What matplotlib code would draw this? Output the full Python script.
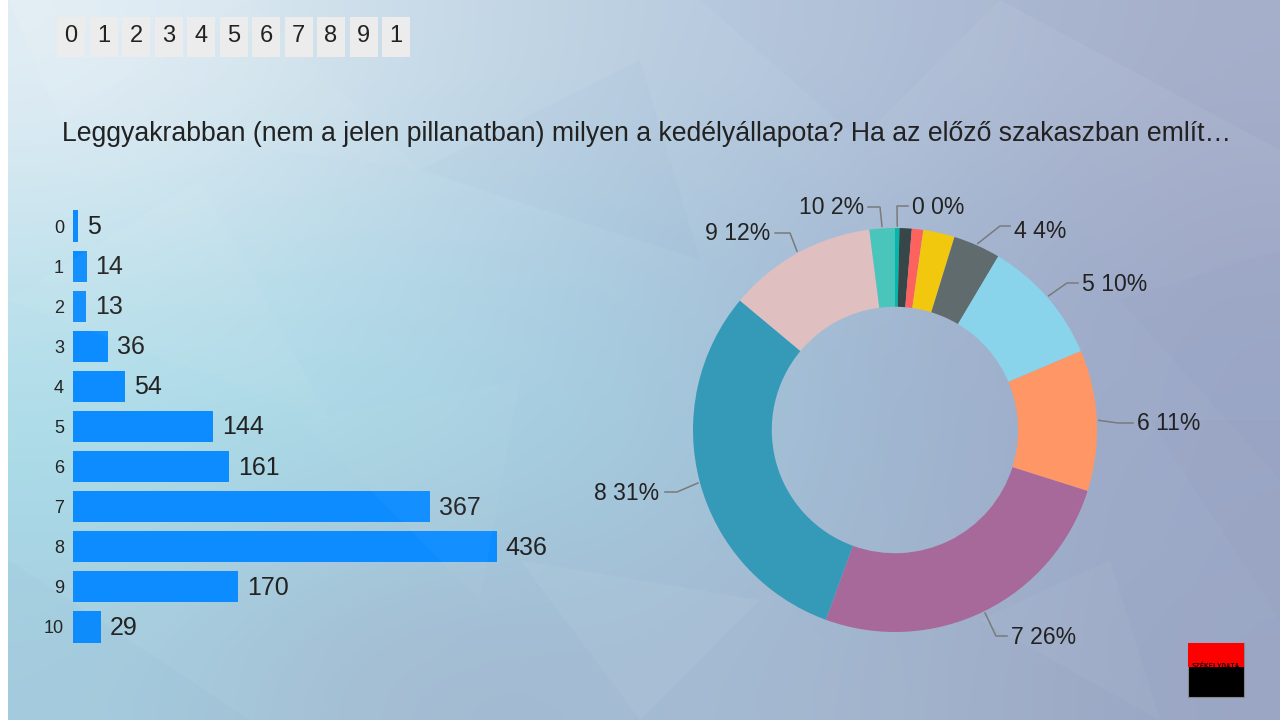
import matplotlib
matplotlib.use('Agg')
import matplotlib.pyplot as plt
import numpy as np
from matplotlib.patches import Rectangle, Polygon
from matplotlib.lines import Line2D
from matplotlib.colors import to_rgb

# ---------------- data ----------------
categories = ['0', '1', '2', '3', '4', '5', '6', '7', '8', '9', '10']
counts = [5, 14, 13, 36, 54, 144, 161, 367, 436, 170, 29]
pie_colors = ['#01B8AA', '#374649', '#FD625E', '#F2C80F', '#5F6B6D', '#8AD4EB',
              '#FE9666', '#A66999', '#3599B8', '#DFBFBF', '#4AC5BB']
bar_color = '#0C8CFF'
tab_labels = ['0', '1', '2', '3', '4', '5', '6', '7', '8', '9', '1']
title = "Leggyakrabban (nem a jelen pillanatban) milyen a kedélyállapota? Ha az előző szakaszban említ…"
labeled_slices = [10, 0, 4, 5, 6, 7, 8, 9]

plt.rcParams['font.family'] = ['Liberation Sans', 'DejaVu Sans']
TXT = '#222222'

W, H = 1280, 720
fig = plt.figure(figsize=(12.8, 7.2), dpi=100)
fig.patch.set_facecolor('white')


def fx(px):
    return px / W


def fy(py):
    return 1 - py / H


def figpts(pts):
    return [(fx(x), fy(y)) for x, y in pts]


# ---------------- background ----------------
bg_grid = [
    ['#e3eef5', '#cbdde9', '#bccfe1', '#b3c3da', '#aab3cd'],
    ['#c2e2ed', '#b4d8e8', '#a8c8de', '#a3b6d0', '#9ea8c6'],
    ['#a9dde9', '#a8d8e6', '#a2cbde', '#a0b6d0', '#9ca8c8'],
    ['#a8cfe0', '#a3b8cf', '#a4bdd5', '#a4b4cc', '#9aa6c4'],
]
bg = fig.add_axes([8 / W, 0, 1 - 8 / W, 1])
bg.set_axis_off()
img = np.array([[to_rgb(c) for c in row] for row in bg_grid])
bg.imshow(img, extent=(0, 1, 0, 1), origin='upper', interpolation='bicubic', aspect='auto')
bg.set_xlim(0, 1)
bg.set_ylim(0, 1)

facets = [
    ([(8, 0), (250, 0), (60, 120)], 'white', 0.08),
    ([(60, 120), (250, 0), (420, 170)], 'white', 0.04),
    ([(8, 300), (200, 180), (330, 420)], 'white', 0.04),
    ([(420, 170), (640, 60), (700, 260)], '#6a7fa8', 0.03),
    ([(700, 0), (1000, 0), (860, 140)], '#6a7fa8', 0.03),
    ([(1000, 0), (1280, 0), (1280, 150)], '#6a6f9a', 0.05),
    ([(1120, 300), (1280, 250), (1280, 480)], '#7a7fa8', 0.03),
    ([(8, 560), (250, 720), (8, 720)], '#6a8fb0', 0.04),
    ([(520, 560), (760, 600), (640, 720)], 'white', 0.05),
    ([(1150, 420), (1280, 420), (1280, 620)], '#8a7fa8', 0.04),
    ([(300, 420), (520, 380), (480, 600)], 'white', 0.03),
    ([(980, 620), (1110, 560), (1160, 720)], 'white', 0.04),
]
for pts, col, a in facets:
    fig.patches.append(Polygon(figpts(pts), closed=True, transform=fig.transFigure,
                               facecolor=col, edgecolor='none', alpha=a, zorder=0.5))

# ---------------- tabs ----------------
for i, t in enumerate(tab_labels):
    x0 = 57 + 32.5 * i
    fig.patches.append(Rectangle((fx(x0), fy(57)), 28 / W, 40 / H, transform=fig.transFigure,
                                 facecolor='#ececec', edgecolor='none', zorder=2))
    fig.text(fx(x0 + 14), fy(36), t, ha='center', va='center', fontsize=17, color=TXT, zorder=3)

# ---------------- title ----------------
fig.text(fx(62), fy(134), title, ha='left', va='center', fontsize=19.2, color=TXT)

# ---------------- bar chart ----------------
ax = fig.add_axes([fx(73), fy(647), 486 / W, (647 - 206) / H])
ax.set_facecolor('none')
y = np.arange(len(categories))
ax.barh(y, counts, height=0.78, color=bar_color)
ax.set_ylim(len(categories) - 0.5, -0.5)
ax.set_xlim(0, 500)
for s in ax.spines.values():
    s.set_visible(False)
ax.set_xticks([])
ax.set_yticks(y)
ax.set_yticklabels(categories, fontsize=13, color=TXT)
ax.tick_params(axis='y', length=0, pad=6.5)
for i, v in enumerate(counts):
    ax.annotate(str(v), (v, i), xytext=(9, -1), textcoords='offset pixels',
                ha='left', va='center', fontsize=18, color=TXT)

# ---------------- donut ----------------
cx, cy, R = 895, 430, 202
pax = fig.add_axes([fx(cx - R), fy(cy + R), 2 * R / W, 2 * R / H])
pax.pie(counts, colors=pie_colors, startangle=90, counterclock=False, radius=1,
        wedgeprops=dict(width=0.39, linewidth=0))
pax.set_xlim(-1, 1)
pax.set_ylim(-1, 1)
pax.set_axis_off()

total = sum(counts)
cum = np.cumsum([0] + counts)
label_layout = {
    10: dict(elbow=(880, 207), end=(868, 207), text=(864, 207), ha='right'),
    0: dict(elbow=(897, 206), end=(908, 206), text=(912, 207), ha='left'),
    4: dict(elbow=(1000, 226), end=(1010, 226), text=(1014, 232), ha='left'),
    5: dict(elbow=(1067, 283), end=(1078, 283), text=(1082, 285), ha='left'),
    6: dict(elbow=(1118, 423), end=(1133, 423), text=(1137, 423), ha='left'),
    7: dict(elbow=(996, 636), end=(1007, 636), text=(1011, 638), ha='left'),
    8: dict(elbow=(677, 492), end=(665, 492), text=(659, 494), ha='right'),
    9: dict(elbow=(790, 233), end=(775, 233), text=(770, 234), ha='right'),
}
for idx in labeled_slices:
    frac_mid = (cum[idx] + cum[idx + 1]) / 2 / total
    ang = np.deg2rad(90 - 360 * frac_mid)
    p0 = (cx + 1.01 * R * np.cos(ang), cy - 1.01 * R * np.sin(ang))
    lay = label_layout[idx]
    pts = figpts([p0, lay['elbow'], lay['end']])
    fig.lines.append(Line2D([p[0] for p in pts], [p[1] for p in pts], transform=fig.transFigure,
                            color='#7a7a7a', lw=1.1))
    pct = int(round(100 * counts[idx] / total))
    fig.text(fx(lay['text'][0]), fy(lay['text'][1]), f"{categories[idx]} {pct}%",
             ha=lay['ha'], va='center', fontsize=16.6, color=TXT)

# ---------------- logo ----------------
fig.patches.append(Rectangle((fx(1188), fy(697)), 56 / W, 54 / H, transform=fig.transFigure,
                             facecolor='black', edgecolor='#888888', lw=0.8, zorder=3))
fig.patches.append(Rectangle((fx(1188), fy(667)), 56 / W, 24 / H, transform=fig.transFigure,
                             facecolor='#ff0000', edgecolor='none', zorder=3))
fig.text(fx(1216), fy(666), 'SZÉKELYDATA', ha='center', va='center', fontsize=5.2,
         color='#220000', family=['DejaVu Sans Mono', 'DejaVu Sans'], weight='bold', zorder=4)

fig.savefig('out.png', dpi=100)
